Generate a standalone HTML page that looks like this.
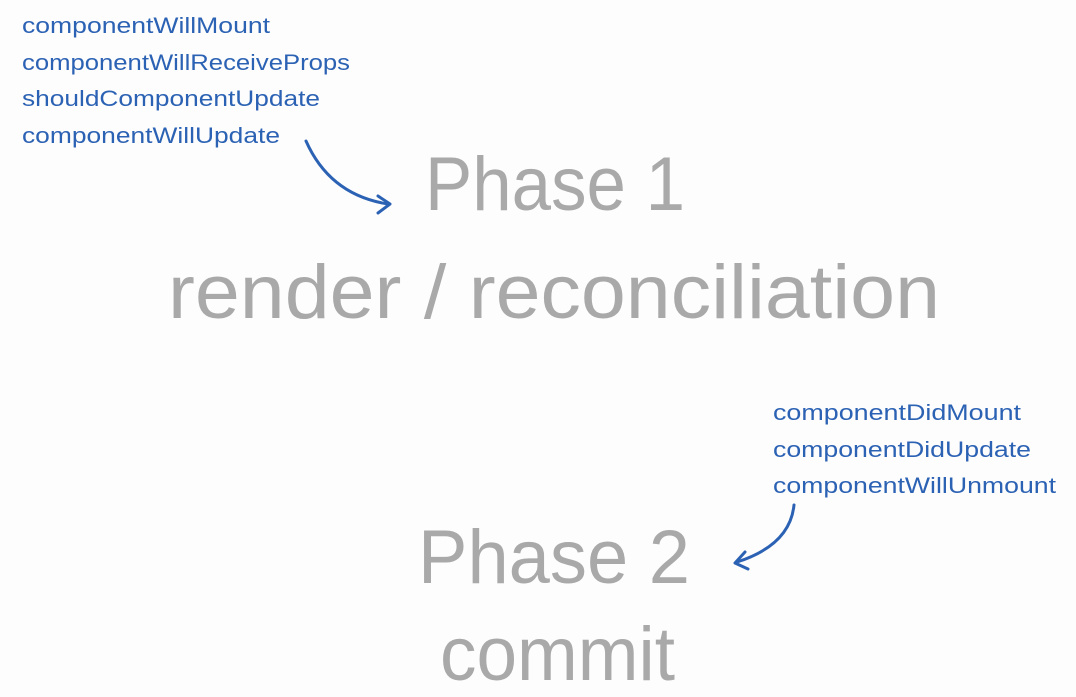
<!DOCTYPE html>
<html><head><style>
html,body{margin:0;padding:0;background:#fdfdfd;}
svg{display:block;}
</style></head><body>
<svg width="1076" height="697" viewBox="0 0 1076 697" xmlns="http://www.w3.org/2000/svg">
<rect width="1076" height="697" fill="#fdfdfd"/>
<g font-family="Liberation Sans, sans-serif" font-size="22" fill="#2c62b4">
<text x="22" y="33" textLength="248" lengthAdjust="spacingAndGlyphs">componentWillMount</text>
<text x="22" y="70" textLength="328" lengthAdjust="spacingAndGlyphs">componentWillReceiveProps</text>
<text x="22" y="106" textLength="298" lengthAdjust="spacingAndGlyphs">shouldComponentUpdate</text>
<text x="22" y="143" textLength="258" lengthAdjust="spacingAndGlyphs">componentWillUpdate</text>
<text x="773" y="420" textLength="248" lengthAdjust="spacingAndGlyphs">componentDidMount</text>
<text x="773" y="457" textLength="258" lengthAdjust="spacingAndGlyphs">componentDidUpdate</text>
<text x="773" y="493" textLength="283" lengthAdjust="spacingAndGlyphs">componentWillUnmount</text>
</g>
<g font-family="Liberation Sans, sans-serif" font-size="76" fill="#a9a9a9">
<text x="425" y="210" textLength="260" lengthAdjust="spacingAndGlyphs">Phase 1</text>
<text x="168" y="318" textLength="772" lengthAdjust="spacingAndGlyphs">render / reconciliation</text>
<text x="418" y="583" textLength="272" lengthAdjust="spacingAndGlyphs">Phase 2</text>
<text x="440" y="680" textLength="235" lengthAdjust="spacingAndGlyphs">commit</text>
</g>
<g fill="none" stroke="#2c62b4" stroke-width="3" stroke-linecap="round" stroke-linejoin="round">
<path d="M306 141 Q330 195 388 204"/>
<path d="M378 196 L390 204 L378 213"/>
<path d="M794 505 Q790 545 737 562"/>
<path d="M745 552 L735 563 L748 569"/>
</g>
</svg>
</body></html>
